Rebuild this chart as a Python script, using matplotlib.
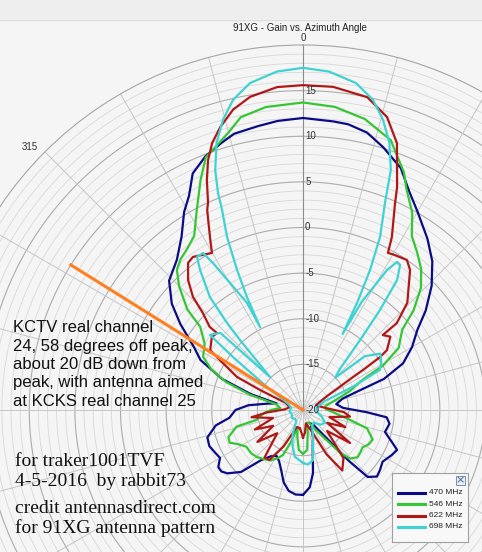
import numpy as np
import matplotlib.pyplot as plt
from matplotlib.patches import Rectangle

# gain patterns, azimuth in degrees (0 = boresight, negative = left), gain in dB
ang_470 = [-180, -175, -170, -165, -160, -155, -150, -145, -140, -135,
           -130, -127, -124, -120, -116, -111, -106, -100, -96, -90,
           -85, -80, -76, -73, -69, -64, -60, -55, -51, -46,
           -40, -35, -31, -28, -25, -21, -17, -14, -9, -5,
           0, 6, 9, 13, 17, 22, 26, 30, 36, 41,
           46, 51, 55, 60, 65, 69, 71, 74, 80, 87,
           92, 95, 99, 105, 110, 113, 117, 123, 128, 132,
           136, 138, 140, 145, 150, 155, 160, 166, 171, 175, 180]
gain_470 = [-10.7, -10.7, -11.0, -11.8, -13.0, -13.8, -14.2, -13.8, -12.8, -10.4,
            -9.2, -8.8, -8.8, -9.5, -9.3, -9.0, -9.1, -10.3, -11.9, -12.6,
            -14.0, -16.0, -17.0, -14.0, -10.5, -7.5, -6.2, -3.6, -1.5, 0.4,
            1.5, 3.2, 5.3, 6.6, 8.6, 9.8, 10.6, 11.2, 11.5, 11.8,
            12.0, 11.8, 11.7, 11.2, 10.1, 8.6, 6.6, 5.1, 3.2, 1.6,
            -0.4, -2.7, -4.7, -6.2, -7.9, -10.5, -13.5, -15.5, -16.3, -15.6,
            -13.0, -10.8, -10.4, -10.7, -9.6, -8.8, -9.1, -9.6, -9.3, -9.1,
            -9.8, -12.5, -16.0, -18.0, -18.3, -17.8, -16.8, -15.6, -13.0, -11.5, -10.7]

ang_546 = [-180, -174, -168, -163, -159, -156, -152, -147, -141, -136,
           -130, -123, -118, -114, -110, -104, -102, -100, -94, -90,
           -85, -78, -74, -70, -66, -62, -56, -51, -49, -45,
           -42, -39, -36, -32, -28, -24, -21, -19, -15, -12,
           -7, 0, 6, 12, 18, 23, 25, 29, 32, 36,
           40, 44, 48, 51, 57, 61, 63, 68, 72, 80,
           88, 94, 98, 102, 106, 113, 118, 122, 126, 131,
           136, 139, 141, 148, 155, 162, 168, 174, 180]
gain_546 = [-15.2, -15.6, -17.0, -18.0, -16.1, -14.6, -14.0, -13.4, -13.1, -12.8,
            -12.6, -12.6, -12.0, -11.2, -11.3, -12.5, -14.8, -15.0, -15.8, -16.5,
            -17.5, -17.0, -14.0, -11.0, -9.0, -7.6, -7.0, -5.5, -3.2, -0.8,
            0.65, 1.3, 1.7, 2.5, 4.8, 7.6, 9.7, 10.2, 11.5, 12.8,
            13.45, 13.7, 13.4, 12.6, 11.1, 8.3, 6.8, 4.7, 2.5, 1.3,
            0.15, -1.4, -3.7, -6.0, -7.5, -10.0, -12.6, -14.5, -16.0, -17.5,
            -17.5, -16.7, -16.0, -14.7, -12.7, -11.7, -11.9, -12.3, -12.2, -12.1,
            -12.6, -13.8, -15.3, -17.5, -18.5, -18.5, -17.5, -15.6, -15.2]

ang_622 = [-180, -170, -160, -152, -146, -141, -132, -125, -118, -112,
           -105, -98, -94, -88, -78, -68, -65, -63.4, -59.6, -57.2,
           -51.3, -48.2, -48.3, -45.9, -44.2, -41.5, -38, -35.7, -31, -30.1,
           -28.3, -25.6, -24.6, -22.7, -20.8, -18.8, -16.3, -13.1, -9.6, -4.6,
           0, 5.3, 11.6, 16, 19.4, 22.9, 24, 27.2, 28.4, 30,
           34.7, 37.4, 44.2, 47.2, 46.8, 50, 54.5, 55.5, 56.3, 56.6,
           60, 70, 85, 93, 98, 105, 112, 118, 125, 131,
           140, 147, 152, 158, 168, 175, 180]
gain_622 = [-17.0, -18.0, -18.0, -15.5, -13.4, -13.3, -16.2, -13.9, -16.3, -14.3,
            -16.6, -14.3, -16.0, -18.0, -18.5, -18.0, -14.8, -11.9, -9.8, -7.9,
            -7.2, -7.35, -6.3, -4.7, -2.7, -1.0, 0.46, 0.66, 0.0, -0.1,
            1.5, 4.3, 5.0, 7.3, 9.3, 10.9, 12.3, 13.8, 14.8, 15.5,
            15.6, 15.57, 15.0, 13.4, 11.0, 6.5, 4.8, 1.3, -0.43, -0.3,
            0.0, -0.68, -3.6, -6.0, -8.0, -7.5, -8.7, -9.75, -12.1, -13.4,
            -17.0, -18.5, -17.5, -15.5, -14.8, -17.0, -15.0, -17.0, -13.7, -16.5,
            -13.1, -12.1, -14.5, -17.5, -18.5, -17.5, -17.0]

ang_698 = [-180, -170, -163, -156.5, -150, -140, -125, -110, -95, -80,
           -68, -62, -57.4, -52.9, -51.1, -47, -45, -42, -41.1, -39.5,
           -36.3, -34.7, -32.5, -31.5, -29.9, -27.6, -27.4, -26.4, -25.2, -23.7,
           -22, -21.4, -20.1, -17.9, -15.4, -12.7, -9.2, -4.4, 0, 4.4,
           9.2, 12.7, 15.4, 17.9, 20.1, 21.6, 24, 25.6, 26.8, 27.5,
           28.5, 31, 32.4, 33.8, 35.9, 37.6, 39.2, 42, 45, 49,
           54, 59, 62.5, 65, 68, 80, 95, 110, 120, 130,
           140, 150, 159.7, 168.7, 175, 180]
gain_698 = [-14.2, -14.8, -16.0, -17.2, -18.5, -18.7, -18.5, -18.7, -18.5, -18.7,
            -18.3, -17.5, -15.3, -10.4, -6.9, -7.6, -14.9, -9.7, -7.3, -3.95,
            -0.94, 0.4, 0.4, -1.1, -3.9, -6.75, -9.8, -6.2, -3.0, 0.7,
            3.7, 5.5, 8.0, 10.8, 13.0, 14.85, 16.3, 17.2, 17.5, 17.2,
            16.3, 14.85, 13.0, 10.8, 8.0, 4.4, 0.77, -3.0, -6.85, -10.6,
            -6.5, -2.1, -0.78, -0.87, -2.4, -6.2, -10.1, -14.0, -15.0, -11.0,
            -9.5, -10.0, -10.5, -14.0, -17.5, -18.5, -18.5, -17.8, -17.2, -17.5,
            -18.2, -18.0, -16.8, -14.4, -14.0, -14.2]

labels = ["470 MHz", "546 MHz", "622 MHz", "698 MHz"]
colors = ["#0b0b85", "#35c535", "#b01818", "#40d2d2"]

# direction of the interfering station and how far the line is drawn
kctv_angle = -58
kctv_top = 10

note_lines = ["KCTV real channel", "24, 58 degrees off peak,", "about 20 dB down from",
              "peak, with antenna aimed", "at KCKS real channel 25"]
credit_lines = ["for traker1001TVF", "4-5-2016  by rabbit73",
                "credit antennasdirect.com", "for 91XG antenna pattern"]

W, H = 482, 552
fig = plt.figure(figsize=(W / 100, H / 100), dpi=100, facecolor="#f5f5f5")

# window strip at the top of the screenshot
fig.patches.append(Rectangle((0, 1 - 19 / H), 1, 19 / H, transform=fig.transFigure,
                             facecolor="#eeeeee", edgecolor="none", zorder=0))
fig.lines.append(plt.Line2D([0, 1], [1 - 19.5 / H] * 2, transform=fig.transFigure,
                            color="#dedede", lw=1))

# polar plot centre is at pixel (303, 410), outer ring radius 365 px
cx, cy, R = 303, 410, 365
ax = fig.add_axes([(cx - R) / W, (H - cy - R) / H, 2 * R / W, 2 * R / H], projection="polar")
ax.set_theta_zero_location("N")
ax.set_theta_direction(-1)
ax.set_ylim(-20, 20)
ax.set_facecolor("#f5f5f5")
ax.grid(False)
ax.set_xticks([])
ax.set_yticks([])
ax.spines["polar"].set_color("#a5a5a5")
ax.spines["polar"].set_linewidth(0.8)

th = np.linspace(0, 2 * np.pi, 721)
for r in range(-19, 20):
    major = r % 5 == 0
    ax.plot(th, np.full_like(th, r), color="#acacac" if major else "#d8d8d8",
            lw=0.8 if major else 0.6, zorder=1)
for a in range(0, 360, 15):
    ax.plot(np.deg2rad([a, a]), [-20, 20], color="#c6c6c6", lw=0.7, zorder=1)
ax.plot([0, 0], [-20, 20], color="#8c8c8c", lw=0.8, zorder=1)

for a, g, c, lab in zip([ang_470, ang_546, ang_622, ang_698],
                        [gain_470, gain_546, gain_622, gain_698], colors, labels):
    ax.plot(np.deg2rad(a), g, color=c, lw=1.6, label=lab, zorder=3)

ax.plot(np.deg2rad([kctv_angle, kctv_angle]), [-20, kctv_top], color="#ff7f1e", lw=2.2, zorder=4)

for v in range(-20, 20, 5):
    ax.annotate(str(v), xy=(0, v), xytext=(1.5, 0), textcoords="offset points",
                ha="left", va="center", fontsize=7, color="#333333", family="Liberation Sans",
                zorder=5)
ax.annotate("0", xy=(0, 20), xytext=(0, 1.5), textcoords="offset points", ha="center",
            va="bottom", fontsize=7, color="#333333", family="Liberation Sans")
ax.annotate("315", xy=(np.deg2rad(315), 20), xytext=(-5, 0), textcoords="offset points",
            ha="right", va="bottom", fontsize=7, color="#333333", family="Liberation Sans")

fig.text(300 / W, 1 - 28 / H, "91XG - Gain vs. Azimuth Angle", ha="center", va="center",
         fontsize=7, color="#222222", family="Liberation Sans")

for s, yb in zip(note_lines, [332, 350.5, 369, 387.5, 406.5]):
    fig.text(13 / W, 1 - yb / H, s, va="baseline", ha="left", fontsize=12,
             family="Liberation Sans", color="#111111")
for s, yb in zip(credit_lines, [466, 486, 513, 533]):
    fig.text(15 / W, 1 - yb / H, s, va="baseline", ha="left", fontsize=14,
             family="Liberation Serif", color="#111111")

# legend box with its close button
lg = fig.add_axes([392 / W, 1 - 542 / H, 76 / W, 69 / H])
lg.set_xlim(0, 76)
lg.set_ylim(69, 0)
lg.set_facecolor("#f8f8f8")
lg.set_xticks([])
lg.set_yticks([])
for sp in lg.spines.values():
    sp.set_color("#a0a0a0")
    sp.set_linewidth(0.8)
lg.add_patch(Rectangle((64, 3), 9, 9, facecolor="#e8eef6", edgecolor="#7d8fa8", lw=0.7))
lg.text(68.5, 7.5, "\u00d7", ha="center", va="center", fontsize=8, color="#4a6590")
for i, (lab, c) in enumerate(zip(labels, colors)):
    y = 19.5 + i * 11.5
    lg.plot([6, 33], [y, y], color=c, lw=2.2)
    lg.text(37, y, lab, va="center", ha="left", fontsize=6, family="Liberation Sans",
            color="#222222")

fig.savefig("out.png", dpi=100, facecolor=fig.get_facecolor())
